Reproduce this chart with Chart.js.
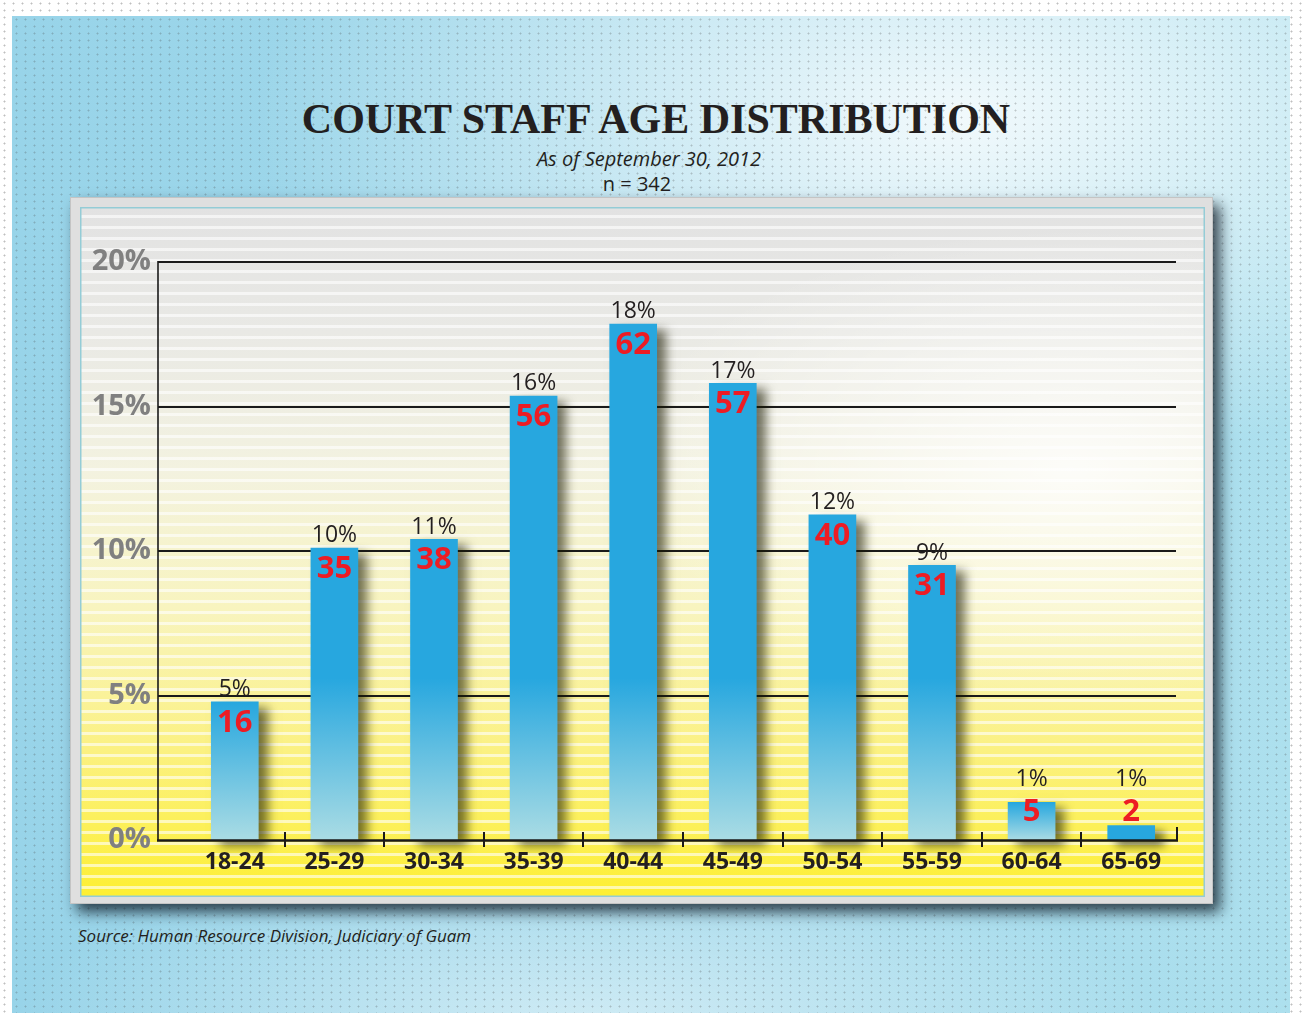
<!DOCTYPE html>
<html>
<head>
<meta charset="utf-8">
<script src="https://cdn.jsdelivr.net/npm/chart.js@4.4.1/dist/chart.umd.min.js"></script>
<style>
  html, body { margin: 0; padding: 0; }
  body {
    width: 1302px; height: 1013px; position: relative; overflow: hidden;
    background: #ffffff;
    font-family: "Open Sans", sans-serif;
  }
  .dots {
    position: absolute; inset: 0;
    background: radial-gradient(circle, rgba(70,70,70,0.35) 0.8px, rgba(0,0,0,0) 1.2px) 0 0 / 9px 7px;
  }
  #sea {
    position: absolute; left: 12px; top: 16px; width: 1278px; height: 1010px;
    background:
      radial-gradient(ellipse 55% 35% at 74% 10%, rgba(255,255,255,0.85), rgba(255,255,255,0) 100%),
      radial-gradient(ellipse 45% 18% at 45% 100%, rgba(255,255,255,0.5), rgba(255,255,255,0) 100%),
      linear-gradient(to right, #98d4e9 0%, #a3d9eb 60%, #ade0ee 100%);
  }
  #sea .dots { opacity: 0.8; }
  .txt { position: absolute; color: #231f20; white-space: nowrap; line-height: 1; }
  #title {
    left: 5px; width: 1302px; top: 98px; text-align: center;
    font-family: "Liberation Serif", serif; font-weight: bold; font-size: 42px;
  }
  #sub { left: 0; width: 1298px; top: 149px; text-align: center; font-style: italic; font-size: 20px; }
  #n { left: 0; width: 1274px; top: 174px; text-align: center; font-size: 20px; }
  #source { left: 78px; top: 927px; font-style: italic; font-size: 17px; }
  #frame {
    position: absolute; left: 70px; top: 197px; width: 1143px; height: 707px;
    background: #dfdfdf; box-sizing: border-box; border: 1px solid #c4c4c4;
    box-shadow: 7px 8px 13px rgba(5,15,25,0.75);
  }
  #panel {
    position: absolute; left: 80px; top: 207px; width: 1125px; height: 690px;
    background:
      repeating-linear-gradient(to bottom, rgba(255,255,255,0) 0px, rgba(255,255,255,0) 8.5px, rgba(255,255,255,0.6) 8.5px, rgba(255,255,255,0.6) 11px),
      radial-gradient(ellipse 40% 35% at 88% 38%, rgba(255,255,255,0.8), rgba(255,255,255,0) 100%),
      linear-gradient(to bottom, #e2e2e2 0%, #e9e9e5 18%, #f3f2e0 38%, #f8f4bf 58%, #fbf184 78%, #fdef32 100%);
    box-shadow: inset 0 0 0 1.5px #94ccd6;
  }
  #chart { position: absolute; left: 80px; top: 207px; }
</style>
</head>
<body>
<div class="dots"></div>
<div id="sea"><div class="dots"></div></div>
<div id="title" class="txt">COURT STAFF AGE DISTRIBUTION</div>
<div id="sub" class="txt">As of September 30, 2012</div>
<div id="n" class="txt">n = 342</div>
<div id="frame"></div>
<div id="panel"></div>
<canvas id="chart" width="1125" height="690"></canvas>
<div id="source" class="txt">Source: Human Resource Division, Judiciary of Guam</div>

<script>
// Court staff age distribution, as of September 30, 2012
const ageGroups = ['18-24', '25-29', '30-34', '35-39', '40-44', '45-49', '50-54', '55-59', '60-64', '65-69'];
const staffCounts = [16, 35, 38, 56, 62, 57, 40, 31, 5, 2];
const percentLabels = ['5%', '10%', '11%', '16%', '18%', '17%', '12%', '9%', '1%', '1%'];
// bar heights in percent, as drawn in the original
const barHeights = [4.78, 10.1, 10.4, 15.36, 17.85, 15.8, 11.25, 9.5, 1.3, 0.5];
const yTicks = [0, 5, 10, 15, 20];

const BLUE = '#27a7df';
const PALE = '#aadce4';

Chart.defaults.font.family = '"Open Sans", sans-serif';

// Blue fill that fades to pale near the base
function barFill(context) {
  const chart = context.chart;
  if (!chart.chartArea) return BLUE;
  const v = context.raw;
  if (v < 1) return BLUE;
  const y = chart.scales.y;
  const g = chart.ctx.createLinearGradient(0, y.getPixelForValue(0), 0, y.getPixelForValue(Math.min(v, 5.6)));
  g.addColorStop(0, PALE);
  g.addColorStop(1, BLUE);
  return g;
}

// Gridlines, axis lines and tick marks
const axisLines = {
  id: 'axisLines',
  beforeDatasetsDraw(chart) {
    const { ctx, scales: { y } } = chart;
    ctx.save();
    ctx.strokeStyle = '#1a1a1a';
    ctx.lineWidth = 2;
    yTicks.forEach(v => {
      if (v === 0) return;
      const py = Math.round(y.getPixelForValue(v));
      ctx.beginPath();
      ctx.moveTo(78, py);
      ctx.lineTo(1096, py);
      ctx.stroke();
    });
    ctx.lineWidth = 1.6;
    ctx.beginPath();
    ctx.moveTo(78, y.getPixelForValue(20) - 1);
    ctx.lineTo(78, y.getPixelForValue(0));
    ctx.stroke();
    ctx.restore();
  },
  beforeDatasetDraw(chart) {
    const ctx = chart.ctx;
    ctx.save();
    ctx.shadowColor = 'rgba(25,25,0,0.6)';
    ctx.shadowBlur = 10;
    ctx.shadowOffsetX = 9;
    ctx.shadowOffsetY = 6;
  },
  afterDatasetDraw(chart) {
    chart.ctx.restore();
  },
  afterDatasetsDraw(chart) {
    const { ctx, chartArea, scales: { x, y } } = chart;
    const base = y.getPixelForValue(0);
    ctx.save();
    ctx.strokeStyle = '#1a1a1a';
    ctx.lineWidth = 2.6;
    ctx.beginPath();
    ctx.moveTo(77, base + 0.5);
    ctx.lineTo(chartArea.right - 3, base + 0.5);
    ctx.stroke();
    ctx.lineWidth = 2;
    for (let i = 0; i < ageGroups.length - 1; i++) {
      const px = Math.round((x.getPixelForValue(i) + x.getPixelForValue(i + 1)) / 2);
      ctx.beginPath();
      ctx.moveTo(px, base - 8);
      ctx.lineTo(px, base + 7);
      ctx.stroke();
    }
    ctx.beginPath();
    ctx.moveTo(chartArea.right - 4, base - 13);
    ctx.lineTo(chartArea.right - 4, base + 1);
    ctx.stroke();
    ctx.restore();
  }
};

// Percent above each bar, head count in red at the top of it
const barLabels = {
  id: 'barLabels',
  afterDatasetsDraw(chart) {
    const { ctx, scales: { y } } = chart;
    const base = y.getPixelForValue(0);
    const meta = chart.getDatasetMeta(0);
    ctx.save();
    ctx.textAlign = 'center';
    ctx.textBaseline = 'alphabetic';
    meta.data.forEach((bar, i) => {
      const countY = Math.min(bar.y + 19, base - 30);
      const pctY = Math.min(bar.y - 14, countY - 32);
      ctx.font = 'bold 31px "Open Sans"';
      ctx.fillStyle = '#ed1c24';
      ctx.fillText(String(staffCounts[i]), bar.x, countY + 11);
      ctx.font = '23px "Open Sans"';
      ctx.fillStyle = '#231f20';
      ctx.fillText(percentLabels[i], bar.x, pctY + 8.2);
    });
    ctx.restore();
  }
};

new Chart(document.getElementById('chart'), {
  type: 'bar',
  data: {
    labels: ageGroups,
    datasets: [{
      data: barHeights,
      backgroundColor: barFill,
      barThickness: 47,
      borderWidth: 0,
      clip: false
    }]
  },
  options: {
    responsive: false,
    animation: false,
    devicePixelRatio: 1,
    layout: { padding: { top: 55, right: 24, left: 0, bottom: 0 } },
    plugins: {
      legend: { display: false },
      tooltip: { enabled: false }
    },
    scales: {
      x: {
        grid: { display: false, drawTicks: false },
        border: { display: false },
        ticks: {
          padding: 9,
          color: '#231f20',
          font: { size: 23, weight: 'bold' }
        },
        afterFit: s => { s.height = 57; }
      },
      y: {
        min: 0,
        max: 20,
        afterBuildTicks: s => { s.ticks = yTicks.map(v => ({ value: v })); },
        grid: { display: false, drawTicks: false },
        border: { display: false },
        ticks: {
          padding: 34,
          color: '#808080',
          font: { size: 29, weight: 'bold' },
          callback: v => v + '%'
        },
        afterFit: s => { s.width = 105; }
      }
    }
  },
  plugins: [axisLines, barLabels]
});
</script>
</body>
</html>
